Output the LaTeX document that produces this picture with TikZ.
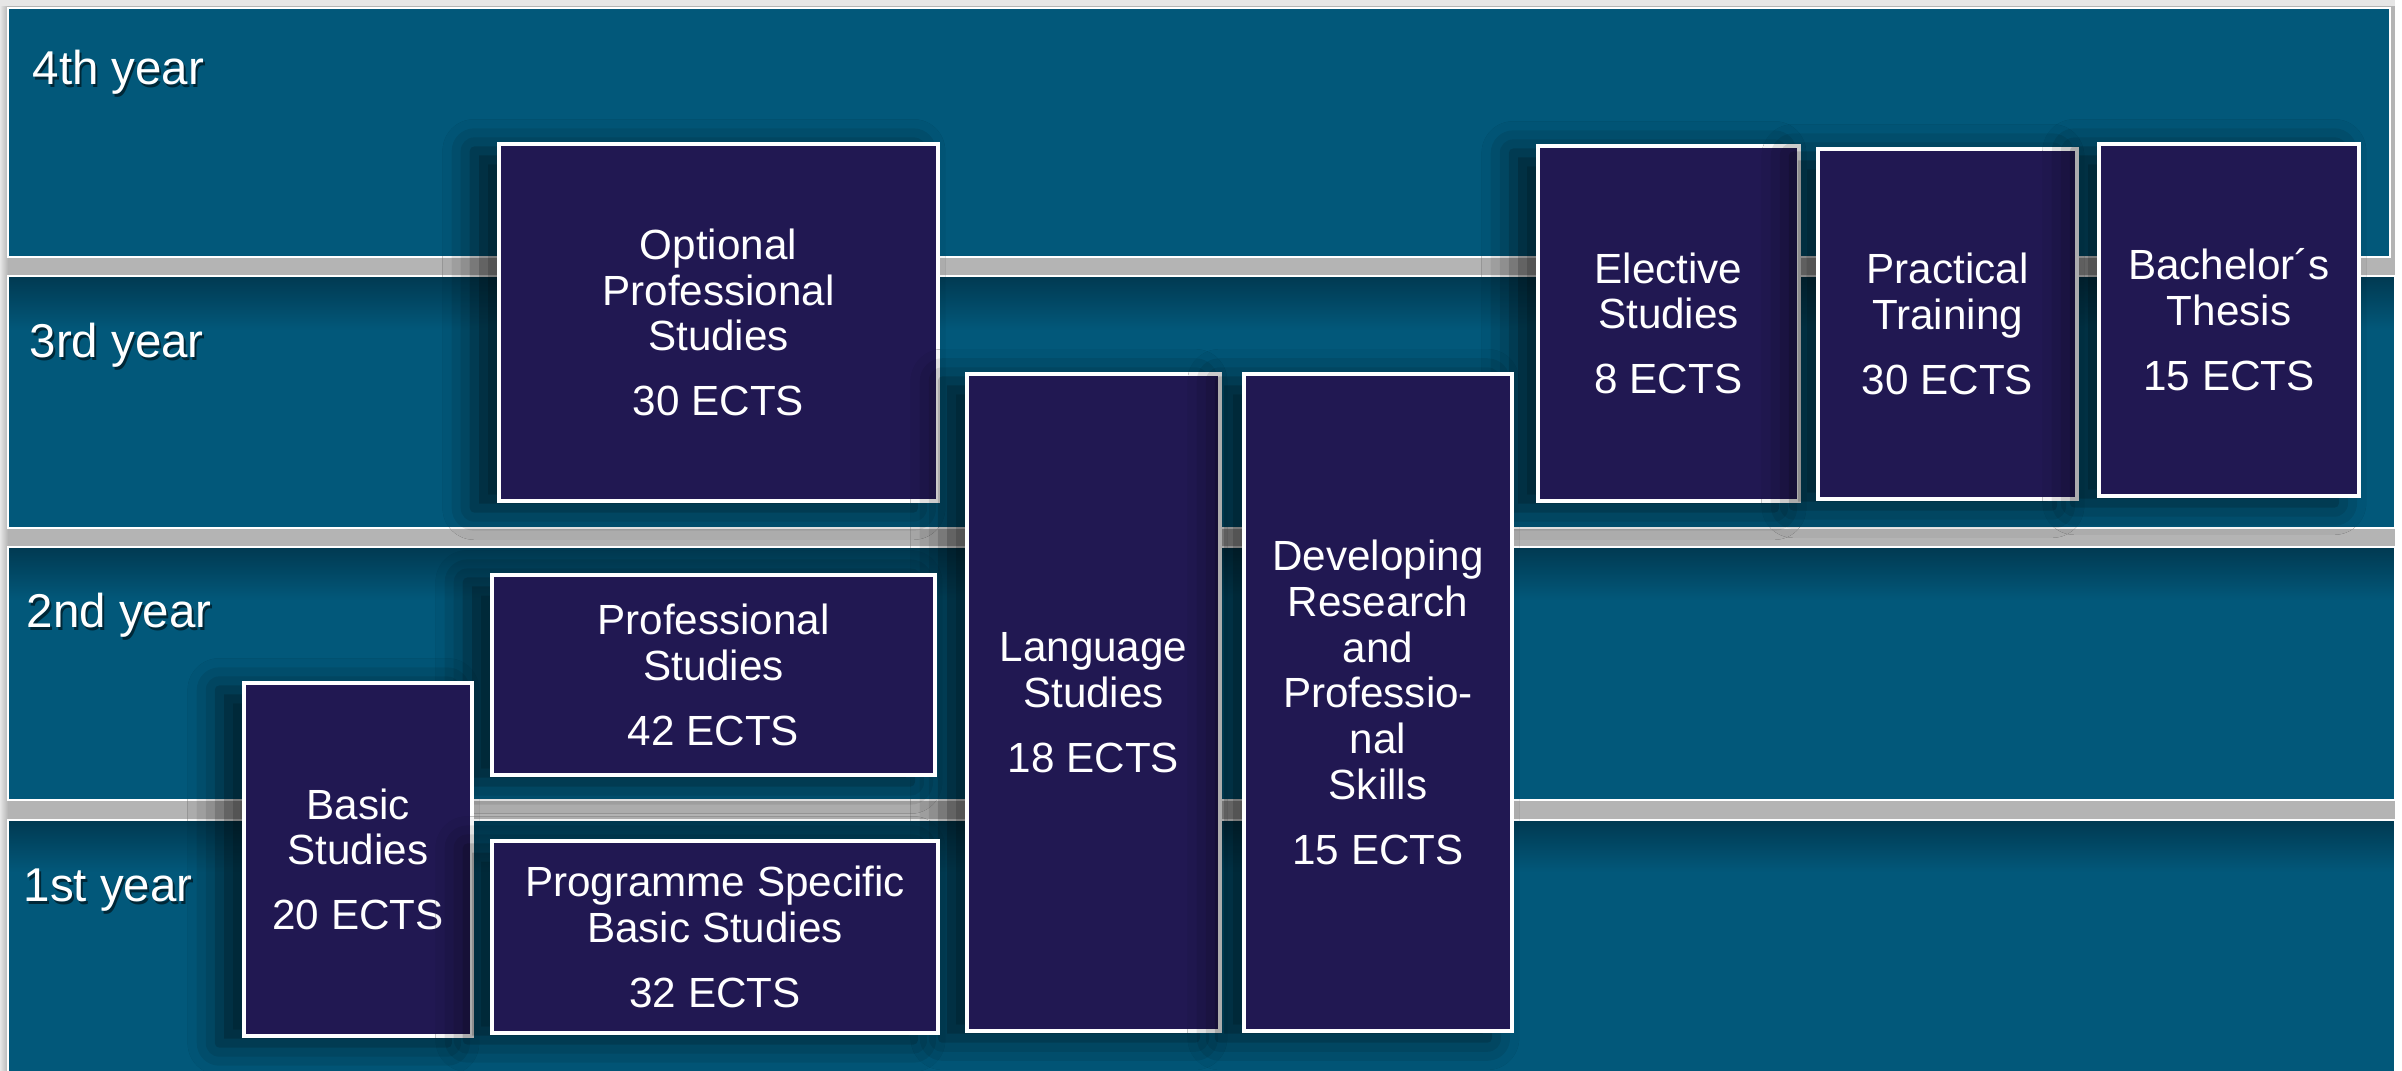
\documentclass[tikz,border=0pt]{standalone}
\usepackage{fontspec}
\setmainfont{Liberation Sans}
\usetikzlibrary{shadows.blur}
\definecolor{bandc}{RGB}{2,88,122}
\definecolor{banddark}{RGB}{1,58,82}
\definecolor{boxc}{RGB}{33,24,82}
\definecolor{gapc}{RGB}{180,180,180}
\definecolor{edgec}{RGB}{230,230,230}
\begin{document}
\begin{tikzpicture}[x=0.01cm,y=-0.01cm,
  bandfill/.style={fill=bandc},
  bandedge/.style={draw=white, line width=0.8pt},
  course/.style={draw=white, line width=1pt, fill=boxc, text=white, align=center,
    inner sep=0pt, font=\fontsize{12}{13}\selectfont,
    blur shadow={shadow xshift=-7pt, shadow yshift=-2pt, shadow blur radius=9pt, shadow opacity=65}},
  yearlbl/.style={anchor=west, text=white, font=\fontsize{13.5}{15}\selectfont, inner sep=0pt},
  yearshadow/.style={yearlbl, text=black, opacity=0.55}]
\useasboundingbox (0,0) rectangle (2402,1071);
% background
\fill[gapc] (0,0) rectangle (2402,1071);
\shade[left color=edgec, right color=gapc] (0,0) rectangle (8,1071);
\fill[edgec] (0,0) rectangle (2402,6);
\fill[white] (2395,0) rectangle (2402,1071);
% bands
\fill[bandfill] (8,8) rectangle (2390,257);
\draw[bandedge] (8,8) rectangle (2390,257);
\fill[bandfill] (8,276) rectangle (2395,528);
\shade[top color=banddark, bottom color=bandc] (8,277) rectangle (2395,330);
\draw[bandedge] (8,276) rectangle (2395,528);
\fill[bandfill] (8,547) rectangle (2395,800);
\shade[top color=banddark, bottom color=bandc] (8,548) rectangle (2395,600);
\draw[bandedge] (8,547) rectangle (2395,800);
\fill[bandfill] (8,820) rectangle (2395,1080);
\shade[top color=banddark, bottom color=bandc] (8,821) rectangle (2395,872);
\draw[bandedge] (8,820) rectangle (2395,1080);
% year labels
\node[yearshadow] at (34,75) {4th year};
\node[yearlbl] (y4) at (32,72) {4th year};
\node[yearshadow] at (31,348) {3rd year};
\node[yearlbl] (y3) at (29,345) {3rd year};
\node[yearshadow] at (28,618) {2nd year};
\node[yearlbl] (y2) at (26,615) {2nd year};
\node[yearshadow] at (25,893) {1st year};
\node[yearlbl] (y1) at (23,890) {1st year};
% course boxes
\node[course, minimum width=4.39cm, minimum height=3.57cm] (opt) at (718.5,322.5)
  {Optional\\Professional\\Studies\\[5.5pt]30 ECTS};
\node[course, minimum width=2.61cm, minimum height=3.55cm] (elec) at (1668.5,323.5)
  {Elective\\Studies\\[5.5pt]8 ECTS};
\node[course, minimum width=2.59cm, minimum height=3.50cm] (prac) at (1947.5,324)
  {Practical\\Training\\[5.5pt]30 ECTS};
\node[course, minimum width=2.60cm, minimum height=3.52cm] (thes) at (2229,320)
  {Bachelor´s\\Thesis\\[5.5pt]15 ECTS};
\node[course, minimum width=2.53cm, minimum height=6.57cm] (lang) at (1093.5,702.5)
  {Language\\Studies\\[5.5pt]18 ECTS};
\node[course, minimum width=2.68cm, minimum height=6.57cm] (dev) at (1378,702.5)
  {Developing\\Research\\and\\Professio-\\nal\\Skills\\[5.5pt]15 ECTS};
\node[course, minimum width=4.43cm, minimum height=2.00cm] (prof) at (713.5,675)
  {Professional\\Studies\\[5.5pt]42 ECTS};
\node[course, minimum width=2.28cm, minimum height=3.53cm] (basic) at (358,859.5)
  {Basic\\Studies\\[5.5pt]20 ECTS};
\node[course, minimum width=4.46cm, minimum height=1.92cm] (prog) at (715,937)
  {Programme Specific\\Basic Studies\\[5.5pt]32 ECTS};
\end{tikzpicture}
\end{document}
